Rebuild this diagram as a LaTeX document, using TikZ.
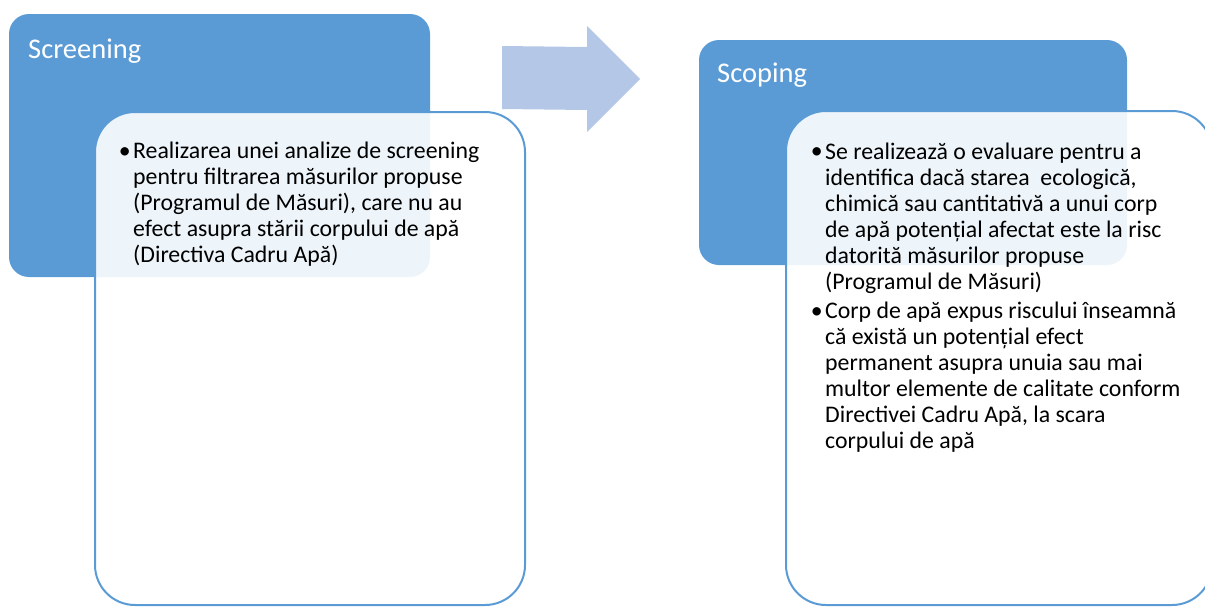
\documentclass[tikz,border=0pt]{standalone}
\usepackage{fontspec}
\setmainfont{Carlito}
\usepackage{tikz}
\usetikzlibrary{positioning}
\definecolor{headblue}{HTML}{5B9BD5}
\definecolor{arrowblue}{HTML}{B4C7E7}

\begin{document}
\begin{tikzpicture}[x=1pt,y=-1pt,
                head/.style={fill=headblue, rounded corners=20pt},
                body/.style={fill=white, fill opacity=0.9, draw=headblue, draw opacity=1, line width=2pt, rounded corners=40pt},
                title/.style={font=\fontsize{28.5}{34}\selectfont, text=white, anchor=base west, inner sep=0pt},
                item/.style={font=\fontsize{23.8}{26}\selectfont, align=left, anchor=base west, inner sep=0pt},
                bullet/.style={font=\fontsize{23.8}{26}\selectfont, anchor=base east, inner sep=0pt}
            ]
            \clip (0,0) rectangle (1205,606);
            % screening
            \path[head] (9,14) rectangle (430,277);
            \path[body] (95,112) rectangle (525,605);
            \node[title] (screen) at (28,58) {Screening};
            \node[bullet] (b1) at (131,158) {\textbullet};
            % base anchor sits on the last line
            \node[item] (t1) at (133,262) {Realizarea unei analize de screening\\
                pentru filtrarea măsurilor propuse\\
                (Programul de Măsuri), care nu au\\
                efect asupra stării corpului de apă\\
                (Directiva Cadru Apă)};
            % arrow
            \fill[arrowblue] (502,46) -- (587,47) -- (587,26) -- (640,79) -- (587,132) -- (587,110) -- (502,109) -- cycle;
            % scoping
            \path[head] (699,40) rectangle (1127,265);
            \path[body] (786,111) rectangle (1212,605);
            \node[title] (scope) at (717,82) {Scoping};
            \node[bullet] (b2) at (823,158) {\textbullet};
            \node[item] (t2) at (825,289) {Se realizează o evaluare pentru a\\
                identifica dacă starea\ \ ecologică,\\
                chimică sau cantitativă a unui corp\\
                de apă potențial afectat este la risc\\
                datorită măsurilor propuse\\
                (Programul de Măsuri)};
            \node[bullet] (b3) at (823,318) {\textbullet};
            \node[item] (t3) at (825,448) {Corp de apă expus riscului înseamnă\\
                că există un potențial efect\\
                permanent asupra unuia sau mai\\
                multor elemente de calitate conform\\
                Directivei Cadru Apă, la scara\\
                corpului de apă};
\end{tikzpicture}
\end{document}
